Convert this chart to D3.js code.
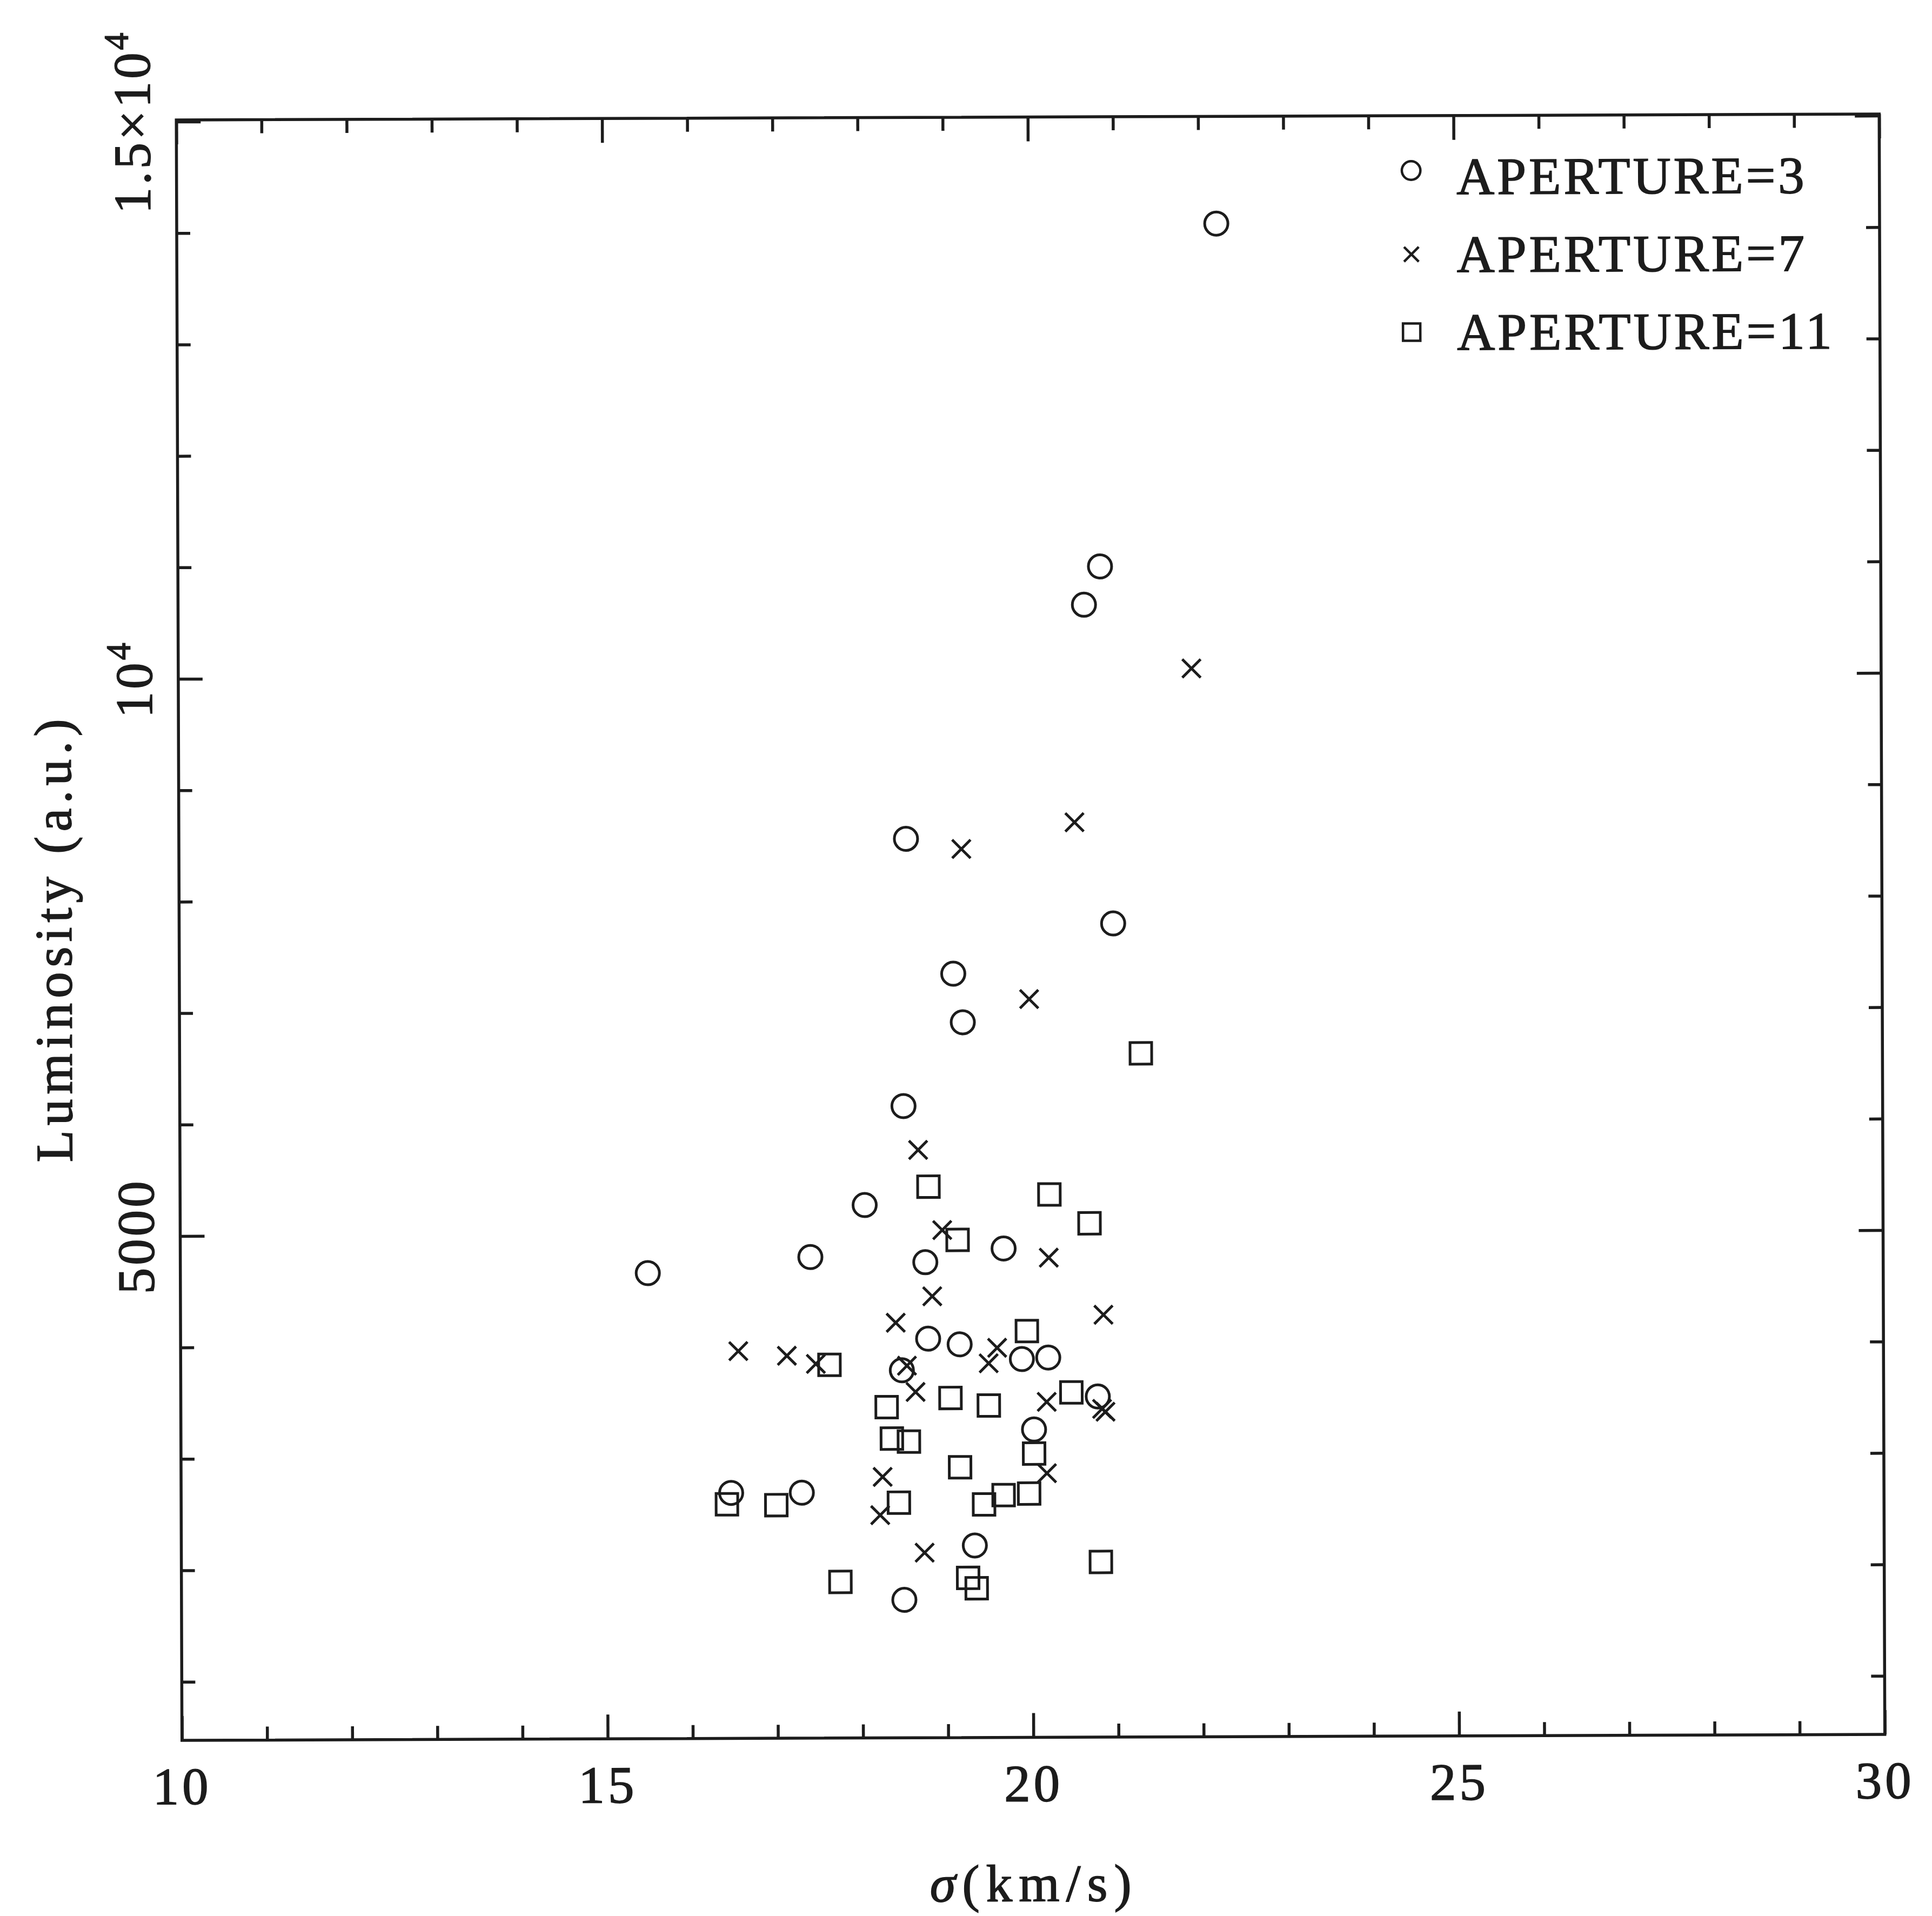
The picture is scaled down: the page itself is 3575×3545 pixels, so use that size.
<!DOCTYPE html>
<html>
<head>
<meta charset="utf-8">
<script src="https://cdn.jsdelivr.net/npm/d3@7"></script>
<style>
  html, body { margin: 0; padding: 0; background: #ffffff; }
  svg text { font-family: "Liberation Serif", "DejaVu Serif", serif; fill: #1c1c1c; stroke: #1c1c1c; stroke-width: 1.6px; }
</style>
</head>
<body>
<svg id="chart" width="3575" height="3545"></svg>
<script>
// ---- data -------------------------------------------------------------
const seriesNames = ["APERTURE=3", "APERTURE=7", "APERTURE=11"];

// aperture 3 (circles)
const sigmaAp3 = [22.21, 20.83, 20.64, 18.54, 20.97, 19.09, 19.20, 18.50, 18.04, 17.40,
                  15.49, 18.75, 19.67, 18.78, 19.15, 19.88, 20.19, 18.47, 20.77, 20.02,
                  16.46, 17.29, 19.32, 18.49];
const lumAp3   = [14053, 10980, 10637, 8542, 7776, 7330, 6894, 6144, 5257, 4792,
                  4653, 4742, 4863, 4056, 4004, 3870, 3883, 3773, 3532, 3238,
                  2678, 2678, 2199, 1713];

// aperture 7 (crosses)
const sigmaAp7 = [21.90, 20.52, 19.19, 19.98, 18.67, 18.95, 20.20, 18.83, 20.84, 18.40,
                  16.55, 17.12, 17.46, 18.53, 19.59, 19.49, 18.63, 20.17, 20.82, 20.86,
                  18.24, 18.21, 20.17, 18.73];
const lumAp7   = [10062, 8685, 8449, 7100, 5750, 5030, 4779, 4436, 4265, 4200,
                  3950, 3907, 3833, 3814, 3972, 3833, 3578, 3485, 3421, 3395,
                  2817, 2474, 2845, 2136];

// aperture 11 (squares)
const sigmaAp11 = [21.29, 18.79, 20.21, 20.68, 19.13, 19.94, 17.62, 18.29, 19.04, 19.49,
                   20.46, 18.35, 18.55, 20.02, 19.15, 16.41, 16.99, 18.43, 19.43, 19.66,
                   19.96, 20.80, 17.74, 19.24, 19.34];
const lumAp11   = [6610, 5420, 5346, 5086, 4941, 4121, 3824, 3443, 3523, 3454,
                   3569, 3161, 3133, 3022, 2901, 2576, 2567, 2585, 2567, 2650,
                   2663, 2047, 1876, 1908, 1815];

// axes
const xDomain = [10, 30];
const yDomain = [475, 15015];
const xMinorTicks = d3.range(10, 31, 1);
const xMajorTicks = [10, 15, 20, 25, 30];
const xTickLabels = ["10", "15", "20", "25", "30"];
const yMinorTicks = d3.range(1000, 15001, 1000);
const yMajorTicks = [5000, 10000, 15000];
const yTickMantissa = ["5000", "10", "1.5\u00d710"];
const yTickExponent = ["", "4", "4"];
const xTitle = ["\u03c3", "(km/s)"];
const yTitle = "Luminosity (a.u.)";

// ---- layout -----------------------------------------------------------
const W = 3575, H = 3545;
const frame = { left: 331.5, right: 3482.5, top: 216.5, bottom: 3214.5 };
const ink = "#1c1c1c";
const lineW = 5.5;
const markW = 5;
const minorLen = 25, majorLen = 45;
const fontSize = 97;

const svg = d3.select("#chart");
svg.append("rect").attr("width", W).attr("height", H).attr("fill", "#ffffff");

// the whole sheet sits a touch off square
const page = svg.append("g")
  .attr("transform", `rotate(-0.2, ${(frame.left + frame.right) / 2}, ${(frame.top + frame.bottom) / 2})`);

const x = d3.scaleLinear().domain(xDomain).range([frame.left, frame.right]);
const y = d3.scaleLinear().domain(yDomain).range([frame.bottom, frame.top]);

// inward ticks on all four sides
function tickAxis(axisFn, scale, values, len, translate) {
  const g = page.append("g")
    .attr("transform", translate)
    .call(axisFn(scale).tickValues(values).tickSize(-len).tickFormat(""));
  g.select(".domain").remove();
  g.selectAll(".tick line").attr("stroke", ink).attr("stroke-width", lineW);
  return g;
}
const xMinorOnly = xMinorTicks.filter(v => !xMajorTicks.includes(v));
const yMinorOnly = yMinorTicks.filter(v => !yMajorTicks.includes(v));

tickAxis(d3.axisBottom, x, xMinorOnly, minorLen, `translate(0,${frame.bottom})`);
tickAxis(d3.axisBottom, x, xMajorTicks, majorLen, `translate(0,${frame.bottom})`);
tickAxis(d3.axisTop, x, xMinorOnly, minorLen, `translate(0,${frame.top})`);
tickAxis(d3.axisTop, x, xMajorTicks, majorLen, `translate(0,${frame.top})`);
tickAxis(d3.axisLeft, y, yMinorOnly, minorLen, `translate(${frame.left},0)`);
tickAxis(d3.axisLeft, y, yMajorTicks, majorLen, `translate(${frame.left},0)`);
tickAxis(d3.axisRight, y, yMinorOnly, minorLen, `translate(${frame.right},0)`);
tickAxis(d3.axisRight, y, yMajorTicks, majorLen, `translate(${frame.right},0)`);

// frame
page.append("rect")
  .attr("x", frame.left).attr("y", frame.top)
  .attr("width", frame.right - frame.left).attr("height", frame.bottom - frame.top)
  .attr("fill", "none").attr("stroke", ink).attr("stroke-width", lineW);

// x tick labels
page.append("g").selectAll("text")
  .data(xMajorTicks)
  .join("text")
  .attr("x", d => x(d))
  .attr("y", frame.bottom + 118)
  .attr("text-anchor", "middle")
  .attr("font-size", fontSize)
  .attr("letter-spacing", 6)
  .text((d, i) => xTickLabels[i]);

// y tick labels (rotated, reading upward)
const yLab = page.append("g").selectAll("text")
  .data(yMajorTicks)
  .join("text")
  .attr("transform", d => `translate(${frame.left - 49},${y(d)}) rotate(-90)`)
  .attr("text-anchor", "middle")
  .attr("font-size", fontSize)
  .attr("letter-spacing", 5);
yLab.append("tspan").text((d, i) => yTickMantissa[i]);
yLab.append("tspan")
  .attr("dy", -40)
  .attr("font-size", fontSize * 0.66)
  .text((d, i) => yTickExponent[i]);

// axis titles
const xt = page.append("text")
  .attr("x", (frame.left + frame.right) / 2)
  .attr("y", frame.bottom + 303)
  .attr("text-anchor", "middle")
  .attr("font-size", fontSize)
  .attr("letter-spacing", 12);
xt.append("tspan").attr("font-style", "italic").text(xTitle[0]);
xt.append("tspan").text(xTitle[1]);

page.append("text")
  .attr("transform", `translate(132,${(frame.top + frame.bottom) / 2 + 14}) rotate(-90)`)
  .attr("text-anchor", "middle")
  .attr("font-size", fontSize)
  .attr("letter-spacing", 9)
  .text(yTitle);

// ---- markers ----------------------------------------------------------
const circleR = 21.5, crossH = 17, squareH = 20;
const markerPath = {
  circle: r => `M${-r},0A${r},${r} 0 1,0 ${r},0A${r},${r} 0 1,0 ${-r},0Z`,
  cross: h => `M${-h},${-h}L${h},${h}M${-h},${h}L${h},${-h}`,
  square: h => `M${-h},${-h}H${h}V${h}H${-h}Z`
};

const series = [
  { name: seriesNames[0], shape: "circle", size: circleR, sx: sigmaAp3, ly: lumAp3 },
  { name: seriesNames[1], shape: "cross", size: crossH, sx: sigmaAp7, ly: lumAp7 },
  { name: seriesNames[2], shape: "square", size: squareH, sx: sigmaAp11, ly: lumAp11 }
];

series.forEach(s => {
  const pts = s.sx.map((v, i) => [v, s.ly[i]]);
  page.append("g").selectAll("path")
    .data(pts)
    .join("path")
    .attr("transform", d => `translate(${x(d[0])},${y(d[1])})`)
    .attr("d", markerPath[s.shape](s.size))
    .attr("fill", "none")
    .attr("stroke", ink)
    .attr("stroke-width", markW);
});

// ---- legend -----------------------------------------------------------
const legendX = 2616, legendTextX = 2700, legendBase = 362, legendStep = 144;
const legend = page.append("g").selectAll("g")
  .data(series)
  .join("g")
  .attr("transform", (d, i) => `translate(0,${legendBase + i * legendStep})`);
legend.append("path")
  .attr("transform", d => `translate(${legendX},${d.shape === "circle" ? -44 : -33})`)
  .attr("d", d => markerPath[d.shape](d.size * 0.8))
  .attr("fill", "none")
  .attr("stroke", ink)
  .attr("stroke-width", 4.5);
legend.append("text")
  .attr("x", legendTextX)
  .attr("y", 0)
  .attr("font-size", fontSize)
  .attr("letter-spacing", 5)
  .text(d => d.name);
</script>
</body>
</html>
